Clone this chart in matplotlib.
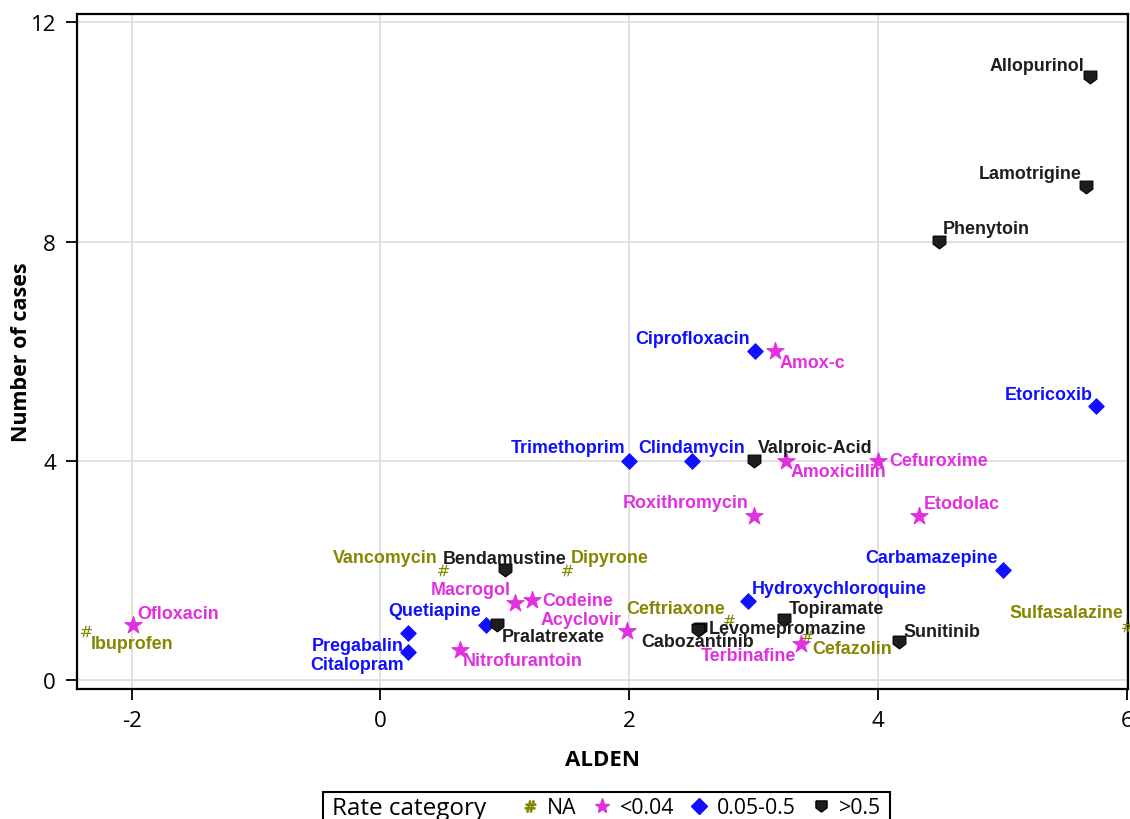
import matplotlib
matplotlib.use('Agg')
import matplotlib.pyplot as plt
from matplotlib.path import Path
from matplotlib.lines import Line2D
from matplotlib.patches import Rectangle

# Data
drugs = ['Allopurinol', 'Lamotrigine', 'Phenytoin', 'Ciprofloxacin', 'Amox-c', 'Etoricoxib',
         'Trimethoprim', 'Clindamycin', 'Valproic-Acid', 'Amoxicillin', 'Cefuroxime',
         'Roxithromycin', 'Etodolac', 'Carbamazepine', 'Vancomycin', 'Bendamustine', 'Dipyrone',
         'Macrogol', 'Codeine', 'Hydroxychloroquine', 'Quetiapine', 'Pralatrexate', 'Acyclovir',
         'Ceftriaxone', 'Topiramate', 'Levomepromazine', 'Cabozantinib', 'Terbinafine',
         'Cefazolin', 'Sunitinib', 'Sulfasalazine', 'Pregabalin', 'Citalopram', 'Nitrofurantoin',
         'Ofloxacin', 'Ibuprofen']
alden = [5.70, 5.67, 4.49, 3.01, 3.17, 5.75,
         2.00, 2.50, 3.00, 3.26, 4.00,
         3.00, 4.33, 5.00, 0.50, 1.00, 1.50,
         1.08, 1.22, 2.95, 0.85, 0.94, 1.98,
         2.80, 3.24, 2.57, 2.55, 3.38,
         3.43, 4.17, 6.00, 0.22, 0.22, 0.64,
         -1.99, -2.37]
cases = [11.0, 9.0, 8.0, 6.0, 6.0, 5.0,
         4.0, 4.0, 4.0, 4.0, 4.0,
         3.0, 3.0, 2.0, 2.0, 2.0, 2.0,
         1.41, 1.46, 1.44, 1.0, 1.0, 0.89,
         1.09, 1.09, 0.94, 0.91, 0.66,
         0.80, 0.69, 0.99, 0.86, 0.51, 0.55,
         1.0, 0.89]
rate_cat = ['>0.5', '>0.5', '>0.5', '0.05-0.5', '<0.04', '0.05-0.5',
            '0.05-0.5', '0.05-0.5', '>0.5', '<0.04', '<0.04',
            '<0.04', '<0.04', '0.05-0.5', 'NA', '>0.5', 'NA',
            '<0.04', '<0.04', '0.05-0.5', '0.05-0.5', '>0.5', '<0.04',
            'NA', '>0.5', '>0.5', '>0.5', '<0.04',
            'NA', '>0.5', 'NA', '0.05-0.5', '0.05-0.5', '<0.04',
            '<0.04', 'NA']

categories = ['NA', '<0.04', '0.05-0.5', '>0.5']

# styling
shield = Path([(-1, 1), (1, 1), (1, -0.25), (0, -1), (-1, -0.25), (-1, 1)])
cat_style = {
    'NA': dict(color='#868600', marker=r'$\#$', s=70),
    '<0.04': dict(color='#e030e0', marker='*', s=170),
    '0.05-0.5': dict(color='#1010ff', marker='D', s=62),
    '>0.5': dict(color='#1e1e1e', marker=shield, s=85),
}
# label offsets in pixels (dx, dy) and horizontal alignment
label_pos = {
    'Allopurinol': (-5, 12, 'right'), 'Lamotrigine': (-4, 13, 'right'),
    'Phenytoin': (4, 13, 'left'), 'Ciprofloxacin': (-5, 13, 'right'),
    'Amox-c': (5, -11, 'left'), 'Etoricoxib': (-3, 12, 'right'),
    'Trimethoprim': (-4, 13, 'right'), 'Clindamycin': (0, 13, 'center'),
    'Valproic-Acid': (4, 13, 'left'), 'Amoxicillin': (4, -11, 'left'),
    'Cefuroxime': (11, 0, 'left'), 'Roxithromycin': (-5, 13, 'right'),
    'Etodolac': (4, 12, 'left'), 'Carbamazepine': (-5, 13, 'right'),
    'Vancomycin': (-5, 13, 'right'), 'Bendamustine': (0, 12, 'center'),
    'Dipyrone': (4, 13, 'left'), 'Macrogol': (-4, 13, 'right'),
    'Codeine': (10, 0, 'left'), 'Hydroxychloroquine': (4, 13, 'left'),
    'Quetiapine': (-5, 15, 'right'), 'Pralatrexate': (4, -11, 'left'),
    'Acyclovir': (-5, 12, 'right'), 'Ceftriaxone': (-4, 12, 'right'),
    'Topiramate': (5, 12, 'left'), 'Levomepromazine': (8, 0, 'left'),
    'Cabozantinib': (0, -11, 'center'), 'Terbinafine': (-5, -12, 'right'),
    'Cefazolin': (5, -12, 'left'), 'Sunitinib': (4, 11, 'left'),
    'Sulfasalazine': (-4, 13, 'right'), 'Pregabalin': (-4, -13, 'right'),
    'Citalopram': (-4, -12, 'right'), 'Nitrofurantoin': (3, -11, 'left'),
    'Ofloxacin': (4, 12, 'left'), 'Ibuprofen': (5, -12, 'left'),
}

plt.rcParams['font.family'] = ['Open Sans', 'DejaVu Sans']
plt.rcParams['axes.unicode_minus'] = False

fig = plt.figure(figsize=(11.3, 8.2), dpi=100)
ax = fig.add_axes([0.068, 0.1585, 0.930, 0.823])

for cat in categories:
    st = cat_style[cat]
    xs = [a for a, c in zip(alden, rate_cat) if c == cat]
    ys = [n for n, c in zip(cases, rate_cat) if c == cat]
    ax.scatter(xs, ys, s=st['s'], marker=st['marker'], color=st['color'],
               edgecolors=st['color'] if cat != '>0.5' else 'black',
               linewidths=0.8 if cat != 'NA' else 0, zorder=3, clip_on=False)

for name, x, y, cat in zip(drugs, alden, cases, rate_cat):
    dx, dy, ha = label_pos[name]
    ax.annotate(name, (x, y), xytext=(dx, dy), textcoords='offset pixels',
                ha=ha, va='center', color=cat_style[cat]['color'],
                fontsize=12.9, fontweight='bold', family='Liberation Sans', zorder=4)

ax.set_xlim(-2.44, 6.005)
ax.set_ylim(-0.164, 12.15)
ax.set_xticks([-2, 0, 2, 4, 6])
ax.set_yticks([0, 4, 8, 12])
ax.grid(True, color='#dcdcdc', linewidth=1.2)
ax.set_axisbelow(True)
ax.tick_params(direction='out', length=8, width=1.3, labelsize=16, pad=7)
for sp in ax.spines.values():
    sp.set_linewidth(1.6)
ax.set_xlabel('ALDEN', fontsize=16, fontweight='bold')
ax.set_ylabel('Number of cases', fontsize=15.5, fontweight='bold')
ax.xaxis.set_label_coords(0.5, -(760 - 690) / 675)
ax.yaxis.set_label_coords(-(77 - 22) / 1051, 0.5)
ax.xaxis.label.set_va('center')
ax.yaxis.label.set_va('center')

# legend below the plot, with the title inline on the left
leg_y = 1 - 809 / 820
fig.text(332 / 1130, leg_y, 'Rate category', fontsize=17.5, ha='left', va='center')
handles = [Line2D([], [], linestyle='none', marker=cat_style[c]['marker'],
                  color=cat_style[c]['color'],
                  markeredgecolor='black' if c == '>0.5' else cat_style[c]['color'],
                  markersize=8 if c != '<0.04' else 11) for c in categories]
fig.legend(handles, categories, loc='center left', ncol=4, frameon=False,
           bbox_to_anchor=(521 / 1130, leg_y), fontsize=15.3,
           handlelength=0.8, handletextpad=0.42, columnspacing=0.8,
           borderaxespad=0, borderpad=0)
fig.add_artist(Rectangle((323 / 1130, -0.05), (890 - 323) / 1130, 0.05 + 27 / 820,
                         transform=fig.transFigure, fill=False, lw=1.5,
                         edgecolor='black', clip_on=False))

fig.savefig('out.png', dpi=100)
